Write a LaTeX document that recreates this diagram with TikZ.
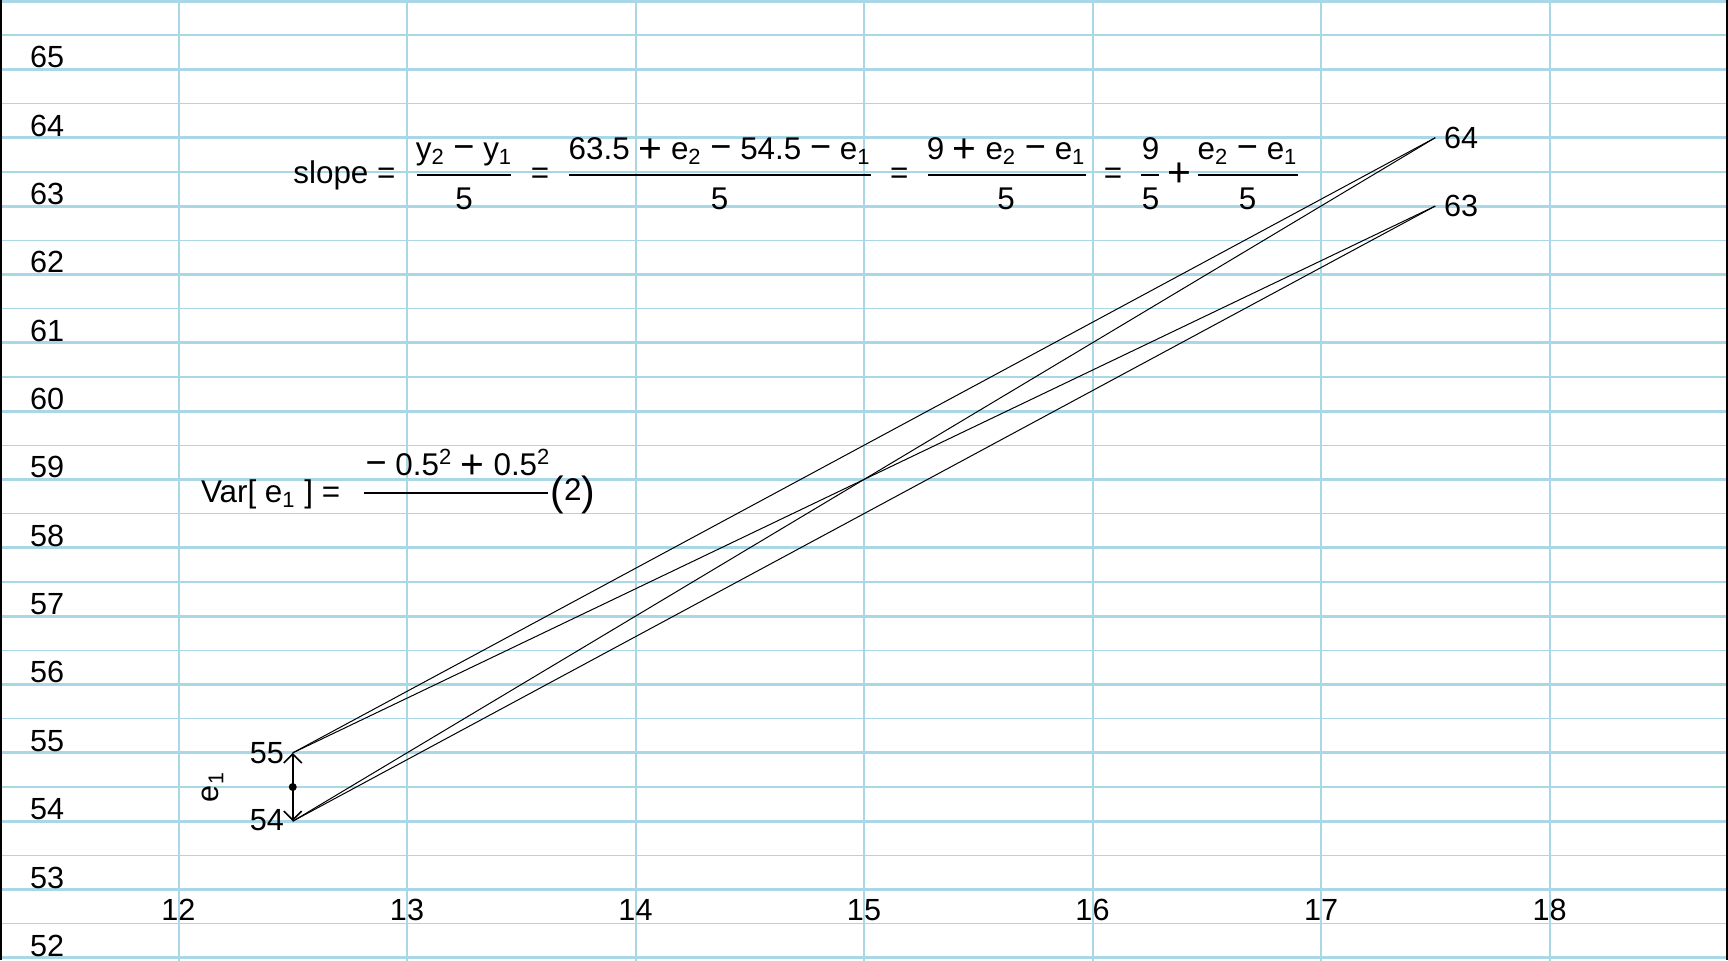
\documentclass[tikz,border=0pt]{standalone}
\usepackage{xcolor}
\usepackage{graphicx}
\usepackage{fontspec}
\setmainfont{Liberation Sans}
\usetikzlibrary{arrows.meta}
\definecolor{gridblue}{RGB}{170,215,230}
\newcommand{\bigplus}{\raisebox{-1.6pt}{\scalebox{1.3}{+}}}
\newcommand{\bigminus}{\scalebox{1.15}[1.2]{−}}
\begin{document}
\begin{tikzpicture}[x=0.5pt,y=-0.5pt,
  thickgrid/.style={draw=gridblue, line width=1.5pt},
  thingrid/.style={draw=gridblue, line width=0.7pt},
  vgrid/.style={draw=gridblue, line width=1pt},
  lbl/.style={font=\fontsize{15.3}{18}\selectfont, inner sep=0pt},
  eq/.style={font=\fontsize{15.7}{18}\selectfont, inner sep=0pt},
  dataline/.style={draw=black, line width=0.5pt},
  fracbar/.style={draw=black, line width=1pt},
  border/.style={draw=black, line width=2pt},
  dotnode/.style={circle, fill=black, inner sep=0pt, minimum size=4pt},
  tip/.tip={Straight Barb[length=4.5pt,width=9pt,line width=0.8pt]},
]
\useasboundingbox (0,0) rectangle (1728,960);

% ---------- data coordinate system ----------
\begin{scope}[shift={(-2563.5,4512.1)}, x=114.25pt, y=34.175pt]
  % grid
  \foreach \v in {52.5,53.5,...,65.5} \draw[thingrid] (11.2,\v) -- (18.8,\v);
  \foreach \v in {52,...,66} \draw[thickgrid] (11.2,\v) -- (18.8,\v);
  \foreach \u in {12,...,18} \draw[vgrid] (\u,51.9) -- (\u,66.1);

  % axis labels
  \foreach \v in {52,...,65} \node[lbl, anchor=west] (ylab\v) at (11.349,\v+0.177) {\v};
  \foreach \u in {12,...,18} \node[lbl] (xlab\u) at (\u,52.698) {\u};

  % points
  \coordinate (a55) at (12.5,55);
  \coordinate (a54) at (12.5,54);
  \coordinate (b64) at (17.5,64);
  \coordinate (b63) at (17.5,63);

  % lines
  \draw[dataline] (a55) -- (b64);
  \draw[dataline] (a55) -- (b63);
  \draw[dataline] (a54) -- (b64);
  \draw[dataline] (a54) -- (b63);

  \node[lbl, anchor=west] (l64) at (17.537,64) {64};
  \node[lbl, anchor=west] (l63) at (17.537,63) {63};
  \node[lbl, anchor=east] (l55) at (12.463,55) {55};
  \node[lbl, anchor=east] (l54) at (12.463,54.01) {54};

  % error arrow
  \draw[line width=0.9pt, tip-tip] (a54) -- (a55);
  \node[dotnode] (mid) at (12.5,54.5) {};
  \node[lbl, rotate=90] (elab) at (12.15,54.5) {e\textsubscript{1}};
\end{scope}

% ---------- slope equation ----------
\node[eq, anchor=base west] (slope) at (293,183) {slope =};
\draw[fracbar] (416.6,175.2) -- (511.3,175.2);
\node[eq, anchor=base] (n1) at (464,159.5) {y\textsubscript{2} \bigminus{} y\textsubscript{1}};
\node[eq, anchor=base] (d1) at (464,209) {5};
\node[eq, anchor=base] (eqa) at (540,183) {=};
\draw[fracbar] (568.6,175.2) -- (870.6,175.2);
\node[eq, anchor=base] (n2) at (719.6,159.5) {63.5 \bigplus{} e\textsubscript{2} \bigminus{} 54.5 \bigminus{} e\textsubscript{1}};
\node[eq, anchor=base] (d2) at (719.6,209) {5};
\node[eq, anchor=base] (eqb) at (899.2,183) {=};
\draw[fracbar] (927.9,175.2) -- (1085.5,175.2);
\node[eq, anchor=base] (n3) at (1006.1,159.5) {9 \bigplus{} e\textsubscript{2} \bigminus{} e\textsubscript{1}};
\node[eq, anchor=base] (d3) at (1006.1,209) {5};
\node[eq, anchor=base] (eqc) at (1113,183) {=};
\draw[fracbar] (1140.6,175.2) -- (1159.3,175.2);
\node[eq, anchor=base] (n4) at (1150.5,159.5) {9};
\node[eq, anchor=base] (d4) at (1150.5,209) {5};
\node[eq, anchor=base] (plus) at (1179.1,183) {\bigplus};
\draw[fracbar] (1197.9,175.2) -- (1298.2,175.2);
\node[eq, anchor=base] (n5) at (1247.5,159.5) {e\textsubscript{2} \bigminus{} e\textsubscript{1}};
\node[eq, anchor=base] (d5) at (1247.5,209) {5};

% ---------- variance equation ----------
\node[eq, anchor=base west] (var) at (200.6,502.6) {Var[ e\textsubscript{1} ] =};
\draw[fracbar] (363.7,492.6) -- (547.7,492.6);
\node[eq, anchor=base] (vn) at (458,475) {\bigminus{} 0.5\textsuperscript{2} \bigplus{} 0.5\textsuperscript{2}};
\node[eq, anchor=base west] (two) at (550,500) {\raisebox{-2.5pt}{\scalebox{1.3}{(}}2\raisebox{-2.5pt}{\scalebox{1.3}{)}}};

% ---------- page borders ----------
\draw[border] (0,0) -- (0,960);
\draw[border] (1728,0) -- (1728,960);
\end{tikzpicture}
\end{document}
